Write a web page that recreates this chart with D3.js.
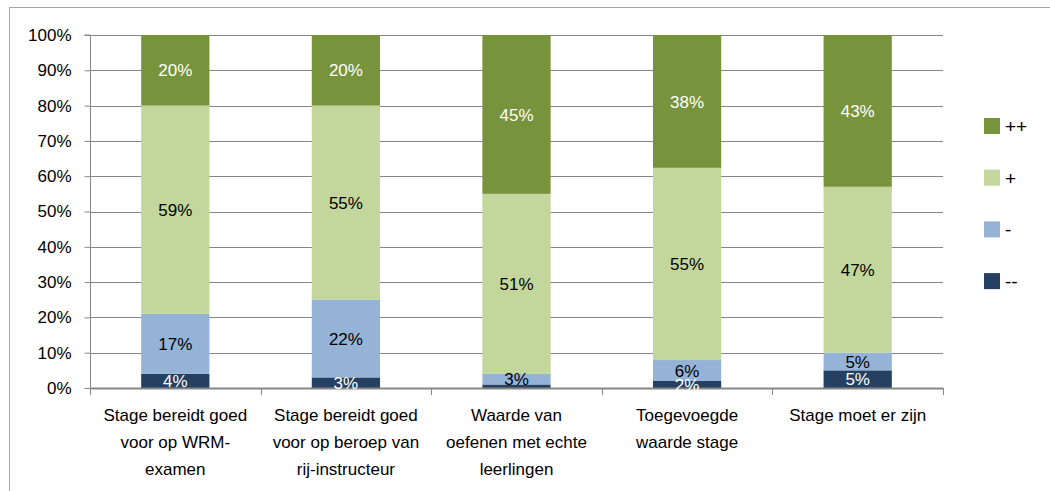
<!DOCTYPE html>
<html><head><meta charset="utf-8">
<script src="https://cdn.jsdelivr.net/npm/d3@7"></script>
<style>
html,body{margin:0;padding:0;background:#fff;}
svg text{font-family:"Liberation Sans",Arial,sans-serif;}
</style>
</head><body>
<svg id="chart" width="1050" height="491"></svg>
<script>
const categories = [
  "Stage bereidt goed voor op  WRM-examen",
  "Stage bereidt goed voor op  beroep van rij-instructeur",
  "Waarde van oefenen met echte leerlingen",
  "Toegevoegde waarde stage",
  "Stage moet er zijn"
];
const categoryLines = [
  ["Stage bereidt goed", "voor op  WRM-", "examen"],
  ["Stage bereidt goed", "voor op  beroep van", "rij-instructeur"],
  ["Waarde van", "oefenen met echte", "leerlingen"],
  ["Toegevoegde", "waarde stage"],
  ["Stage moet er zijn"]
];
const seriesNames = ["--", "-", "+", "++"];
const valMinMin = [4, 3, 1, 2, 5];
const valMin    = [17, 22, 3, 6, 5];
const valPlus   = [59, 55, 51, 55, 47];
const valPlusPlus = [20, 20, 45, 38, 43];
const yTicks = [0, 0.1, 0.2, 0.3, 0.4, 0.5, 0.6, 0.7, 0.8, 0.9, 1.0];

const seriesValues = [valMinMin, valMin, valPlus, valPlusPlus];
const colors = ["#254061", "#95B3D7", "#C3D69B", "#77933C"];
const labelColors = ["#ffffff", "#000000", "#000000", "#ffffff"];

const svg = d3.select("#chart");
const pL = 90, pR = 943, pT = 35, pB = 388;

// outer frame
svg.append("rect").attr("x", 9.5).attr("y", 7.5).attr("width", 1100).attr("height", 600)
  .attr("fill", "none").attr("stroke", "#a6a6a6").attr("stroke-width", 1);

const x = d3.scaleBand().domain(categories).range([pL, pR]).padding(0);
const y = d3.scaleLinear().domain([0, 1]).range([pB, pT]);
const barW = x.bandwidth() * 0.4;

// normalized stack (100% stacked)
const rows = categories.map((c, i) => {
  const r = {cat: c};
  const tot = d3.sum(seriesValues, s => s[i]);
  seriesNames.forEach((n, k) => { r[n] = seriesValues[k][i] / tot; r[n + "_raw"] = seriesValues[k][i]; });
  return r;
});
const stack = d3.stack().keys(seriesNames)(rows);

// gridlines
svg.append("g").selectAll("line").data(yTicks.filter(d => d > 0)).join("line")
  .attr("x1", pL).attr("x2", pR)
  .attr("y1", d => Math.round(y(d)) + 0.5).attr("y2", d => Math.round(y(d)) + 0.5)
  .attr("stroke", "#868686").attr("stroke-width", 1);

// bars
const g = svg.append("g");
stack.forEach((layer, k) => {
  g.append("g").selectAll("rect").data(layer).join("rect")
    .attr("x", d => x(d.data.cat) + (x.bandwidth() - barW) / 2)
    .attr("width", barW)
    .attr("y", d => y(d[1]))
    .attr("height", d => y(d[0]) - y(d[1]))
    .attr("fill", colors[k]);
});

// y axis
const yAxis = d3.axisLeft(y).tickValues(yTicks).tickFormat(d3.format(".0%")).tickSize(6).tickPadding(13);
const ya = svg.append("g").attr("transform", `translate(${pL + 0.5},0)`).call(yAxis);
ya.select(".domain").attr("stroke", "#868686").attr("d", `M-6,${pT}H0V${pB + 6}`);
ya.selectAll(".tick line").attr("stroke", "#868686");
ya.selectAll(".tick text").attr("font-size", 17).attr("fill", "#000")
  .attr("font-family", "Liberation Sans, Arial, sans-serif");

// x axis line and boundary ticks
const xa = svg.append("g");
xa.append("line").attr("x1", pL).attr("x2", pR).attr("y1", pB + 0.5).attr("y2", pB + 0.5)
  .attr("stroke", "#868686").attr("stroke-width", 2);
const bounds = categories.map(c => x(c)).concat([x.range()[1]]);
xa.selectAll(".bt").data(bounds).join("line").attr("class", "bt")
  .attr("x1", d => Math.round(d) + 0.5).attr("x2", d => Math.round(d) + 0.5)
  .attr("y1", pB).attr("y2", pB + 7)
  .attr("stroke", "#868686").attr("stroke-width", 1);

// category labels
categories.forEach((c, i) => {
  const t = svg.append("text").attr("text-anchor", "middle")
    .attr("x", x(c) + x.bandwidth() / 2).attr("y", 421)
    .attr("font-size", 17).attr("fill", "#000");
  categoryLines[i].forEach((ln, j) => {
    t.append("tspan").attr("x", x(c) + x.bandwidth() / 2).attr("y", 421 + j * 27).text(ln);
  });
});

// data labels (segments of 1% carry no visible label in the reference)
stack.forEach((layer, k) => {
  svg.append("g").selectAll("text").data(layer.filter(d => d.data[seriesNames[k] + "_raw"] > 1)).join("text")
    .attr("x", d => x(d.data.cat) + x.bandwidth() / 2)
    .attr("y", d => (y(d[0]) + y(d[1])) / 2)
    .attr("dy", "0.36em")
    .attr("text-anchor", "middle")
    .attr("font-size", 17)
    .attr("fill", labelColors[k])
    .text(d => d.data[seriesNames[k] + "_raw"] + "%");
});

// legend
const legendOrder = ["++", "+", "-", "--"];
const legend = svg.append("g");
legendOrder.forEach((n, i) => {
  const k = seriesNames.indexOf(n);
  const ly = 118 + i * 51.7;
  legend.append("rect").attr("x", 984).attr("y", ly).attr("width", 16).attr("height", 16).attr("fill", colors[k]);
  legend.append("text").attr("x", 1005).attr("y", ly + 8).attr("dy", "0.36em")
    .attr("font-size", 19).attr("fill", "#000").text(n);
});
</script>
</body></html>
